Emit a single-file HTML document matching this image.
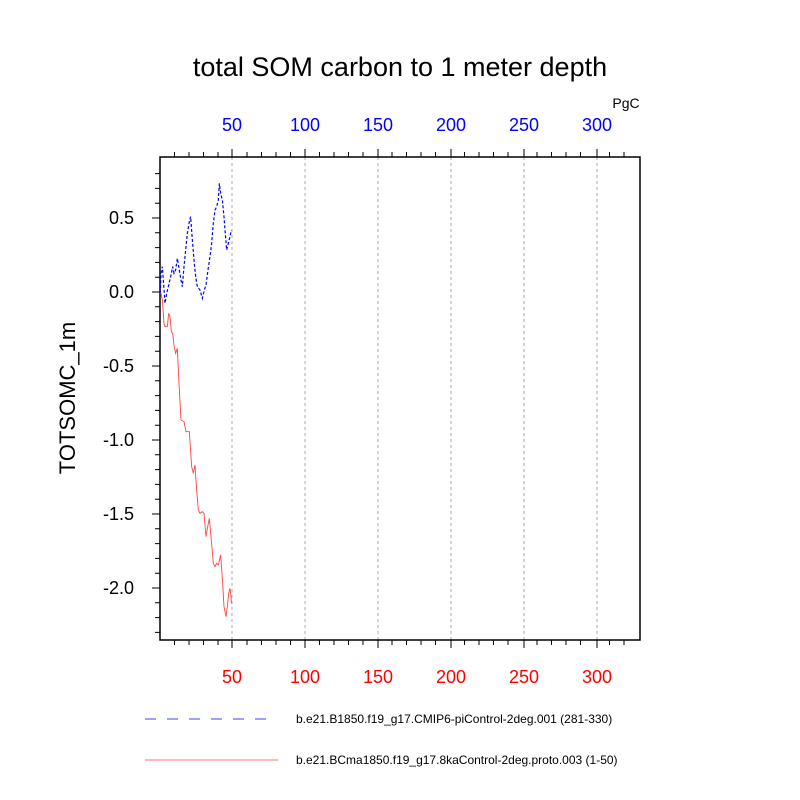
<!DOCTYPE html>
<html><head><style>body{margin:0;background:#fff}svg{display:block}text{font-family:"Liberation Sans",sans-serif}</style></head><body>
<svg width="800" height="800" xmlns="http://www.w3.org/2000/svg">
<rect width="800" height="800" fill="#fff"/>
<text x="400" y="76" font-size="27" text-anchor="middle">total SOM carbon to 1 meter depth</text>
<g stroke="#aaa" stroke-dasharray="3,3" stroke-width="1">
<line x1="232" y1="157" x2="232" y2="640"/><line x1="305" y1="157" x2="305" y2="640"/><line x1="378" y1="157" x2="378" y2="640"/><line x1="451" y1="157" x2="451" y2="640"/><line x1="524" y1="157" x2="524" y2="640"/><line x1="597" y1="157" x2="597" y2="640"/>
</g>
<path stroke="#000" stroke-width="1" fill="none" d="
M174.5 157v-5M189 157v-5M203.5 157v-5M218 157v-5M232 157v-8M247 157v-5M261.5 157v-5M276 157v-5M290.5 157v-5M305 157v-8M319.5 157v-5M334 157v-5M348.5 157v-5M363 157v-5M378 157v-8M392 157v-5M406.5 157v-5M421 157v-5M435.5 157v-5M451 157v-8M464.5 157v-5M479 157v-5M493.5 157v-5M508 157v-5M524 157v-8M537 157v-5M551.5 157v-5M566 157v-5M580.5 157v-5M597 157v-8M609.5 157v-5M624 157v-5
M174.5 640v5M189 640v5M203.5 640v5M218 640v5M232 640v8M247 640v5M261.5 640v5M276 640v5M290.5 640v5M305 640v8M319.5 640v5M334 640v5M348.5 640v5M363 640v5M378 640v8M392 640v5M406.5 640v5M421 640v5M435.5 640v5M451 640v8M464.5 640v5M479 640v5M493.5 640v5M508 640v5M524 640v8M537 640v5M551.5 640v5M566 640v5M580.5 640v5M597 640v8M609.5 640v5M624 640v5
M160 173.6h-5M160 188.4h-5M160 203.2h-5M160 218h-8M160 232.8h-5M160 247.6h-5M160 262.4h-5M160 277.2h-5M160 292h-8M160 306.8h-5M160 321.6h-5M160 336.4h-5M160 351.2h-5M160 366h-8M160 380.8h-5M160 395.6h-5M160 410.4h-5M160 425.2h-5M160 440h-8M160 454.8h-5M160 469.6h-5M160 484.4h-5M160 499.2h-5M160 514h-8M160 528.8h-5M160 543.6h-5M160 558.4h-5M160 573.2h-5M160 588h-8M160 602.8h-5M160 617.6h-5M160 632.4h-5"/>
<rect x="160" y="157" width="480" height="483" fill="none" stroke="#000" stroke-width="1.5"/>
<g font-size="18" text-anchor="middle" fill="#00f">
<text x="232" y="131">50</text><text x="305" y="131">100</text><text x="378" y="131">150</text><text x="451" y="131">200</text><text x="524" y="131">250</text><text x="597" y="131">300</text></g>
<text x="626" y="108" font-size="14" text-anchor="middle">PgC</text>
<g font-size="18" text-anchor="middle" fill="#f00">
<text x="232" y="683">50</text><text x="305" y="683">100</text><text x="378" y="683">150</text><text x="451" y="683">200</text><text x="524" y="683">250</text><text x="597" y="683">300</text></g>
<g font-size="18" text-anchor="end">
<text x="134" y="224">0.5</text><text x="134" y="298">0.0</text><text x="134" y="372">-0.5</text><text x="134" y="446">-1.0</text><text x="134" y="520">-1.5</text><text x="134" y="594">-2.0</text></g>
<text transform="translate(75,398) rotate(-90)" font-size="22" text-anchor="middle">TOTSOMC_1m</text>
<g transform="translate(150,150) scale(0.3333)">
<polyline fill="none" stroke="#00f" stroke-width="1.2" stroke-dasharray="3,2" vector-effect="non-scaling-stroke" points="31,430 33,370 37,350 40,390 45,460 50,430 55,410 62,380 68,350 72,370 77,360 82,325 88,360 93,390 97,410 102,350 107,300 112,250 118,215 122,200 127,270 132,330 137,380 142,410 150,420 157,445 163,420 168,405 174,360 180,320 185,280 190,220 195,180 200,170 205,150 208,100 212,130 217,150 222,200 225,240 230,300 235,280 240,260 244,240"/>
<polyline fill="none" stroke="#f44" stroke-width="0.9" vector-effect="non-scaling-stroke" points="31,428 33,430 37,450 42,520 45,530 52,530 56,490 60,500 64,545 68,550 73,595 75,600 77,610 82,595 87,700 93,810 102,815 108,845 118,845 125,950 130,970 135,945 140,1020 145,1080 150,1090 157,1085 162,1090 168,1160 173,1130 178,1105 183,1160 190,1240 195,1250 200,1240 205,1245 212,1215 218,1300 222,1370 228,1400 232,1370 236,1330 240,1315 243,1340 244,1360"/>
</g>
<line x1="145" y1="719" x2="277" y2="719" stroke="#00f" stroke-width="0.8" stroke-dasharray="11,11"/>
<text x="296" y="723" font-size="12">b.e21.B1850.f19_g17.CMIP6-piControl-2deg.001 (281-330)</text>
<line x1="145" y1="760" x2="278" y2="760" stroke="#f44" stroke-width="0.8"/>
<text x="296" y="764" font-size="12">b.e21.BCma1850.f19_g17.8kaControl-2deg.proto.003 (1-50)</text>
</svg>
</body></html>
